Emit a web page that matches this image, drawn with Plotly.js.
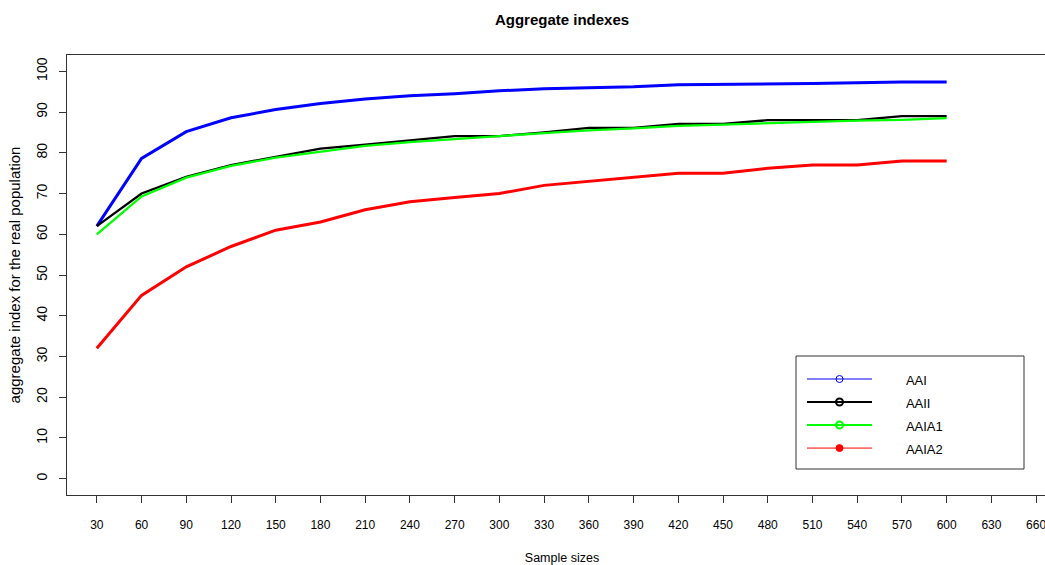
<!DOCTYPE html>
<html>
<head>
<meta charset="utf-8">
<script src="https://cdn.plot.ly/plotly-3.0.1.min.js"></script>
<style>html,body{margin:0;padding:0;overflow:hidden;background:#fff;}#chart{width:1070px;height:565px;}</style>
</head>
<body>
<div id="chart"></div>
<script>
const sampleSizes = [30,60,90,120,150,180,210,240,270,300,330,360,390,420,450,480,510,540,570,600];
const xTicks = [30,60,90,120,150,180,210,240,270,300,330,360,390,420,450,480,510,540,570,600,630,660];
const yTicks = [0,10,20,30,40,50,60,70,80,90,100];
const AAI   = [62,78.6,85.2,88.6,90.6,92.1,93.2,94.0,94.5,95.2,95.7,95.9,96.2,96.7,96.8,96.8,97.0,97.2,97.4,97.4];
const AAII  = [62,70.0,74.1,77.0,79.0,81.0,82.0,83.0,84.1,84.1,85.0,86.1,86.1,87.1,87.1,88.0,88.0,88.0,89.0,89.0];
const AAIA1 = [60,69.3,73.9,76.8,78.8,80.3,81.7,82.6,83.4,84.1,84.8,85.5,86.0,86.6,86.9,87.3,87.6,87.9,88.1,88.5];
const AAIA2 = [32,45,52,57,61,63,66,68,69,70,72,73,74,75,75,76.2,77,77,78,78];
const seriesNames = ['AAI','AAII','AAIA1','AAIA2'];

const series = [
  {name:seriesNames[0], y:AAI,   color:'#0000ff', w:3,   lw:1, sym:'circle-open'},
  {name:seriesNames[1], y:AAII,  color:'#000000', w:2.3, lw:2, sym:'circle-open'},
  {name:seriesNames[2], y:AAIA1, color:'#00ff00', w:2.3, lw:2, sym:'circle-open'},
  {name:seriesNames[3], y:AAIA2, color:'#ff0000', w:3,   lw:1, sym:'circle'}
];

const pad = '&nbsp;'.repeat(8);
const traces = [];
series.forEach(s => {
  traces.push({type:'scatter', mode:'lines', x:sampleSizes, y:s.y, name:s.name,
    line:{color:s.color, width:s.w}, showlegend:false, hoverinfo:'skip'});
});
series.forEach(s => {
  traces.push({type:'scatter', mode:'lines+markers', x:[null], y:[null],
    name:'<span style="font-size:13px">' + pad + s.name + '</span>',
    line:{color:s.color, width:s.lw},
    marker:{symbol:s.sym, size:7, color:s.color, line:{color:s.color, width:s.lw}},
    showlegend:true});
});

const font = 'Liberation Sans, Arial, sans-serif';
const layout = {
  width:1070, height:565,
  margin:{l:67, r:13, t:55, b:70},
  paper_bgcolor:'#fff', plot_bgcolor:'#fff',
  font:{family:font, size:12, color:'#000'},
  title:{text:'<b>Aggregate indexes</b>', font:{family:font, size:15, color:'#000'},
    x:0.5, xref:'paper', y:1-20/565, yref:'container', yanchor:'middle'},
  xaxis:{range:[10,674], tickvals:xTicks, ticktext:xTicks.map(String),
    ticks:'outside', ticklen:7, tickcolor:'#333', tickwidth:1,
    showline:true, mirror:true, linecolor:'#333', linewidth:1,
    showgrid:false, zeroline:false, ticklabelstandoff:12,
    tickfont:{family:font, size:12, color:'#000'},
    title:{text:'Sample sizes', standoff:22, font:{family:font, size:12.5, color:'#000'}}},
  yaxis:{range:[-4,104], tickvals:yTicks, ticktext:yTicks.map(String),
    ticks:'outside', ticklen:7, tickcolor:'#333', tickwidth:1, tickangle:-90,
    showline:true, mirror:true, linecolor:'#333', linewidth:1,
    showgrid:false, zeroline:false, ticklabelstandoff:6,
    tickfont:{family:font, size:14, color:'#000'},
    title:{text:'aggregate index for the real population', standoff:10, font:{family:font, size:15, color:'#000'}}},
  legend:{x:(802-67)/990, y:(495-362.5)/440, xanchor:'left', yanchor:'top',
    bgcolor:'rgba(255,255,255,0)', borderwidth:0,
    itemwidth:65, font:{family:font, size:15.4, color:'#000'}},
  shapes:[{type:'rect', xref:'paper', yref:'paper',
    x0:(796-67)/990, x1:(1024-67)/990, y0:(495-469)/440, y1:(495-356)/440,
    line:{color:'#333', width:1}, fillcolor:'rgba(0,0,0,0)', layer:'below'}]
};

Plotly.newPlot('chart', traces, layout, {displayModeBar:false, staticPlot:true});
</script>
</body>
</html>
